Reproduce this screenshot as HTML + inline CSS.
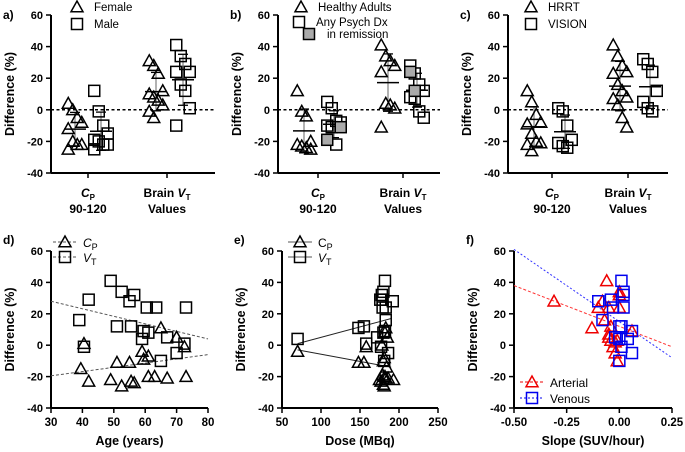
<!DOCTYPE html>
<html><head><meta charset="utf-8">
<style>
body{margin:0;background:#fff;}
svg{display:block;font-family:"Liberation Sans",Arial,sans-serif;font-weight:bold;}
</style></head>
<body>
<svg id="fig" width="685" height="452" viewBox="0 0 685 452" xmlns="http://www.w3.org/2000/svg"></svg>
<script>
// ---------- DATA ----------
const aFemaleCp=[4,0,-5,-8,-12,-20,-22,-22,-25];
const aMaleCp=[12,-1,-10,-15,-19,-20,-22,-22,-25];
const aFemaleVt=[31,28,23,12,10,8,6,3,-1,-5];
const aMaleVt=[41,34,29,24,24,16,12,1,-10];
const bHealthyCp=[12,-1,-4,-20,-22,-23,-24,-25];
const bPsychCp=[5,1,-7,-8,-10,-11,-22];
const bPsychCpFilled=[-11,-19];
const bHealthyVt=[41,34,31,28,24,4,3,1,-11];
const bPsychVt=[28,23,16,12,8,7,-1,-5];
const bPsychVtFilled=[24,12];
const cHrrtCp=[12,5,-3,-8,-9,-15,-20,-21,-22,-26];
const cVisionCp=[1,-1,-10,-19,-21,-23,-24];
const cHrrtVt=[41,34,28,24,23,16,12,8,7,3,-5,-11];
const cVisionVt=[32,29,24,12,5,1,-1];
const dAgeCp=[40.5,39.5,42,49,52.5,51,55,55.5,56.5,59,59.5,61,61,63,65,67,70,72.5,73];
const dValCp=[1,-15,-23,-22,-26,-11,-11,-23,-24,-4,-9,-7,-20,-20,11,-21,5,-1,-20];
const dAgeVt=[39,42,40.5,49,51,52.5,55,55.5,56.5,59,59.5,61,60.5,63.5,65,67,70,72.5,73];
const dValVt=[16,29,-1,41,12,34,28,12,32,4,9,8,24,24,-10,5,-5,1,24];
const dLineCp=[[30,-19.5],[80,-6]];
const dLineVt=[[30,28],[80,4]];
const eDoseCp=[70,148,155,158,175,177,179,180,181,182,183,184,185,183,182,181,180,178,193,186];
const eValCp=[-4,-11,-11,-1,-22,-23,-19,-25,-26,-20,-21,-14,5,11,8,-8,-10,0,-22,-21];
const eDoseVt=[70,148,155,158,172,177,176,178,180,182,179,183,192,183,182,181,186,180,179];
const eValVt=[4,11,12,1,5,-1,29,32,34,41,24,24,28,16,9,-10,-5,8,29];
const eLineCp=[[70,-3],[190,-14]];
const eLineVt=[[70,1],[190,17]];
const fSlopeArt=[-0.31,-0.13,-0.1,-0.08,-0.07,-0.06,-0.05,-0.05,-0.04,-0.04,-0.03,-0.02,-0.02,-0.01,-0.01,0,0,0,0.06,-0.05];
const fValArt=[28,11,24,28,16,41,24,7,12,3,-1,-5,2,-10,3,34,32,24,9,5];
const fSlopeVen=[-0.1,-0.08,-0.04,-0.03,0.01,0.02,0.02,0.02,0,0.01,0.06,0.04,0.06,0.01,0,-0.02,0];
const fValVen=[28,16,29,24,41,34,32,24,12,12,9,4,-5,-1,-10,5,4];
const fLineArt=[[-0.5,38],[0.25,-1]];
const fLineVen=[[-0.5,61],[0.25,-8]];
const yTicks=[60,40,20,0,-20,-40];

// ---------- HELPERS ----------
const svg=document.getElementById('fig');
const NS='http://www.w3.org/2000/svg';
function el(tag,attrs,parent){const e=document.createElementNS(NS,tag);for(const k in attrs)e.setAttribute(k,attrs[k]);(parent||svg).appendChild(e);return e;}
function txt(x,y,s,size,anchor,parent,extra){const t=el('text',Object.assign({x:x,y:y,'font-size':size,'text-anchor':anchor||'middle'},extra||{}),parent);t.textContent=s;return t;}
function tri(x,y,g,color,fill){const s=6;return el('polygon',{points:`${x},${y-s} ${x-s},${y+s*0.8} ${x+s},${y+s*0.8}`,fill:fill||'none',stroke:color||'#000','stroke-width':1.5},g);}
function sq(x,y,g,color,fill){const s=5.5;return el('rect',{x:x-s,y:y-s,width:2*s,height:2*s,fill:fill||'none',stroke:color||'#000','stroke-width':1.5},g);}
function mean(a){return a.reduce((p,c)=>p+c,0)/a.length;}
function sd(a){const m=mean(a);return Math.sqrt(a.reduce((p,c)=>p+(c-m)*(c-m),0)/(a.length-1));}

function yAxis(g,x0,yTop,yBot,ys){
  el('line',{x1:x0,y1:yTop,x2:x0,y2:yBot,stroke:'#000','stroke-width':2},g);
  yTicks.forEach(v=>{const y=ys(v);
    const t=el('line',{x1:x0-5,y1:y,x2:x0,y2:y,stroke:'#000','stroke-width':1.5},g);
    
    
    const l=txt(x0-8,y+4,String(v),11,'end',g);
    
    
  });
  const yt=txt(0,0,'Difference (%)',12.5,'middle',g,{transform:`translate(${x0-37},${(yTop+yBot)/2}) rotate(-90)`});
  
  
}

// ---------- TOP PANELS (categorical) ----------
function catPanel(opt){
  const g=el('g',{});
  
  
  const ys=v=>109.8-v*1.58;
  yAxis(g,opt.x0,15,173,ys);
  el('line',{x1:opt.x0,y1:173,x2:opt.xEnd,y2:173,stroke:'#000','stroke-width':2},g);
  el('line',{x1:opt.x0,y1:ys(0),x2:opt.xEnd,y2:ys(0),stroke:'#000','stroke-width':1.5,'stroke-dasharray':'3,2.5'},g);
  opt.ticks.forEach(tx=>el('line',{x1:tx,y1:173,x2:tx,y2:178,stroke:'#000','stroke-width':1.5},g));
  const l1=txt(opt.ticks[0],197,'',12,'middle',g);
  l1.innerHTML='<tspan font-style="italic">C</tspan><tspan font-size="8" dy="3">P</tspan>';
  
  
  txt(opt.ticks[0],213,'90-120',12,'middle',g);
  const l2=txt(opt.ticks[1],197,'',12,'middle',g);
  l2.innerHTML='Brain <tspan font-style="italic">V</tspan><tspan font-size="8" dy="3">T</tspan>';
  
  
  txt(opt.ticks[1],213,'Values',12,'middle',g);
  txt(3,opt.letterY||19,opt.letter,12,'start',g,{x:opt.x0-48});
  opt.groups.forEach(gr=>{
    const all=gr.vals.concat(gr.filled||[]);
    const m=mean(all),s=sd(all);
    const eg=el('g',{},g);
    
    
    el('line',{x1:gr.x,y1:ys(m+s),x2:gr.x,y2:ys(m-s),stroke:'#888','stroke-width':1.3},eg);
    el('line',{x1:gr.x-5,y1:ys(m+s),x2:gr.x+5,y2:ys(m+s),stroke:'#000','stroke-width':1.3},eg);
    el('line',{x1:gr.x-5,y1:ys(m-s),x2:gr.x+5,y2:ys(m-s),stroke:'#000','stroke-width':1.3},eg);
    el('line',{x1:gr.x-11,y1:ys(m),x2:gr.x+11,y2:ys(m),stroke:'#000','stroke-width':1.5},eg);
    const pts=all.map((v,i)=>({v,f:i>=gr.vals.length}));
    pts.forEach((p,i)=>{
      const off=((i%4)-1.5)*4.5;
      const mk=gr.shape==='tri'?tri(gr.x+off,ys(p.v),g):sq(gr.x+off,ys(p.v),g,'#000',p.f?'#aaa':'none');
      
      
    });
  });
  return g;
}
function legendTopItem(g,shape,x,y,label,fill){
  const m=shape==='tri'?tri(x,y,g):sq(x,y,g,'#000',fill);
  
  
  if(label){const t=txt(x+17,y+4,label,11.5,'start',g,{'font-weight':'normal'});
  
  }
}

const pa=catPanel({name:'panel-a',x0:51,xEnd:215,ticks:[88,167],letter:'a)',groups:[
 {name:'female-cp',x:75,vals:aFemaleCp,shape:'tri'},{name:'male-cp',x:101,vals:aMaleCp,shape:'sq'},
 {name:'female-vt',x:156,vals:aFemaleVt,shape:'tri'},{name:'male-vt',x:183,vals:aMaleVt,shape:'sq'}]});
legendTopItem(pa,'tri',77,7,'Female');legendTopItem(pa,'sq',77,24,'Male');

const pb=catPanel({name:'panel-b',x0:278,xEnd:440,ticks:[318,403],letter:'b)',groups:[
 {name:'healthy-cp',x:304,vals:bHealthyCp,shape:'tri'},{name:'psych-cp',x:334,vals:bPsychCp,filled:bPsychCpFilled,shape:'sq'},
 {name:'healthy-vt',x:388,vals:bHealthyVt,shape:'tri'},{name:'psych-vt',x:417,vals:bPsychVt,filled:bPsychVtFilled,shape:'sq'}]});
legendTopItem(pb,'tri',301,7,'Healthy Adults');legendTopItem(pb,'sq',299,22,'Any Psych Dx');legendTopItem(pb,'sq',309,34,null,'#aaa');
txt(327,38,'in remission',11.5,'start',pb,{'font-weight':'normal'});

const pc=catPanel({name:'panel-c',x0:508,xEnd:668,ticks:[552,628],letter:'c)',groups:[
 {name:'hrrt-cp',x:534,vals:cHrrtCp,shape:'tri'},{name:'vision-cp',x:565,vals:cVisionCp,shape:'sq'},
 {name:'hrrt-vt',x:620,vals:cHrrtVt,shape:'tri'},{name:'vision-vt',x:650,vals:cVisionVt,shape:'sq'}]});
legendTopItem(pc,'tri',531,7,'HRRT');legendTopItem(pc,'sq',531,24,'VISION');

// ---------- BOTTOM PANELS (scatter) ----------
function scatPanel(opt){
  const g=el('g',{});
  
  
  const ys=v=>345.2-v*1.57;
  const xs=v=>opt.x0+(v-opt.xMin)/(opt.xMax-opt.xMin)*(opt.xEnd-opt.x0);
  yAxis(g,opt.x0,251,408,ys);
  el('line',{x1:opt.x0,y1:408,x2:opt.xEnd,y2:408,stroke:'#000','stroke-width':2},g);
  opt.xTicks.forEach(v=>{const x=xs(v);
    el('line',{x1:x,y1:408,x2:x,y2:413,stroke:'#000','stroke-width':1.5},g);
    const l=txt(x,426,opt.fmt?opt.fmt(v):String(v),11.5,'middle',g);
    
    
  });
  const xt=txt((opt.x0+opt.xEnd)/2,445,opt.xTitle,12.5,'middle',g);
  
  
  txt(opt.x0-48,244,opt.letter,12,'start',g);
  opt.lines.forEach(L=>{
    const ln=el('line',{x1:xs(L.p[0][0]),y1:ys(L.p[0][1]),x2:xs(L.p[1][0]),y2:ys(L.p[1][1]),stroke:L.color,'stroke-width':1,'stroke-dasharray':L.dash||'none'},g);
    
    
  });
  opt.series.forEach(S=>{
    S.x.forEach((xv,i)=>{
      const mk=S.shape==='tri'?tri(xs(xv),ys(S.y[i]),g,S.color):sq(xs(xv),ys(S.y[i]),g,S.color);
      
      
    });
  });
  return g;
}
function legendBot(g,x,y,shape,color,dash,labelHTML,fs){
  el('line',{x1:x-12,y1:y,x2:x+12,y2:y,stroke:color==='#000'?'#555':color,'stroke-width':1,'stroke-dasharray':dash||'none'},g);
  const m=shape==='tri'?tri(x,y,g,color):sq(x,y,g,color);
  
  
  const t=txt(x+18,y+5,'',fs||12,'start',g,{'font-weight':'normal'});
  t.innerHTML=labelHTML;
  
  
}
const CP='<tspan font-style="italic">C</tspan><tspan font-size="9" dy="3">P</tspan>';
const CPn='C<tspan font-size="9" dy="3">P</tspan>';
const VT='<tspan font-style="italic">V</tspan><tspan font-size="9" dy="3">T</tspan>';

const pd=scatPanel({name:'panel-d',x0:51,xEnd:208,xMin:30,xMax:80,xTicks:[30,40,50,60,70,80],xTitle:'Age (years)',letter:'d)',
 lines:[{name:'trend-cp',p:dLineCp,color:'#555',dash:'3,2'},{name:'trend-vt',p:dLineVt,color:'#555',dash:'3,2'}],
 series:[{name:'cp',x:dAgeCp,y:dValCp,shape:'tri',color:'#000'},{name:'vt',x:dAgeVt,y:dValVt,shape:'sq',color:'#000'}]});
legendBot(pd,65,242,'tri','#000','3,2',CP);legendBot(pd,65,257,'sq','#000','3,2',VT);

const pe=scatPanel({name:'panel-e',x0:282,xEnd:438,xMin:50,xMax:250,xTicks:[50,100,150,200,250],xTitle:'Dose (MBq)',letter:'e)',
 lines:[{name:'trend-cp',p:eLineCp,color:'#222'},{name:'trend-vt',p:eLineVt,color:'#222'}],
 series:[{name:'cp',x:eDoseCp,y:eValCp,shape:'tri',color:'#000'},{name:'vt',x:eDoseVt,y:eValVt,shape:'sq',color:'#000'}]});
legendBot(pe,300,242,'tri','#000',null,CPn);legendBot(pe,300,257,'sq','#000',null,VT);

const pf=scatPanel({name:'panel-f',x0:514,xEnd:672,xMin:-0.5,xMax:0.25,xTicks:[-0.5,-0.25,0,0.25],fmt:v=>v.toFixed(2),xTitle:'Slope (SUV/hour)',letter:'f)',
 lines:[{name:'trend-arterial',p:fLineArt,color:'#f33',dash:'3,2'},{name:'trend-venous',p:fLineVen,color:'#33f',dash:'2,2'}],
 series:[{name:'arterial',x:fSlopeArt,y:fValArt,shape:'tri',color:'#e00'},{name:'venous',x:fSlopeVen,y:fValVen,shape:'sq',color:'#00e'}]});
legendBot(pf,532,382,'tri','#e00','3,2','Arterial');legendBot(pf,532,398,'sq','#00e','2,2','Venous');
</script>
</body></html>
